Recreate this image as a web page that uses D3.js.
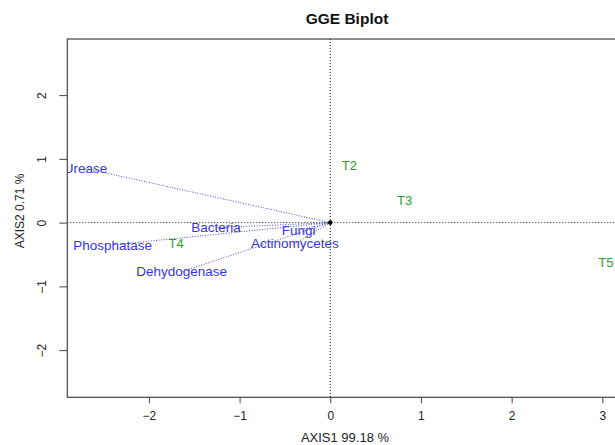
<!DOCTYPE html>
<html>
<head>
<meta charset="utf-8">
<script src="https://cdn.jsdelivr.net/npm/d3@7"></script>
<style>
  html, body { margin: 0; padding: 0; background: #fff; }
  svg { display: block; font-family: "Liberation Sans", Arial, sans-serif; }
</style>
</head>
<body>
<svg id="chart" width="615" height="445"></svg>
<script>
// ---- data (biplot coordinates) ----
const traits   = ["Urease", "Bacteria", "Phosphatase", "Fungi", "Actinomycetes", "Dehydogenase"];
const traitPC1 = [-2.70, -1.26, -2.40, -0.35, -0.39, -1.64];
const traitPC2 = [ 0.85, -0.08, -0.35, -0.12, -0.33, -0.77];

const genotypes = ["T2", "T3", "T4", "T5"];
const genoPC1   = [0.21, 0.82, -1.70, 3.04];
const genoPC2   = [0.89, 0.34, -0.32, -0.63];

const xTicks = [-2, -1, 0, 1, 2, 3];
const yTicks = [-2, -1, 0, 1, 2];

const title  = "GGE Biplot";
const xTitle = "AXIS1 99.18 %";
const yTitle = "AXIS2 0.71 %";

// ---- layout ----
const svg = d3.select("#chart");
const L = 67.3, R = 625, T = 39, B = 397.3;

const x = d3.scaleLinear().domain([-2.9, 3.25]).range([L, R]);
const y = d3.scaleLinear().domain([-2.74, 2.88]).range([B, T]);

svg.append("defs").append("clipPath").attr("id", "plotclip")
  .append("rect").attr("x", L).attr("y", T).attr("width", R - L).attr("height", B - T);

// title
svg.append("text").attr("x", 347).attr("y", 19).attr("dy", "0.35em")
  .attr("text-anchor", "middle").attr("font-weight", "bold").attr("font-size", 15.5)
  .attr("fill", "#111").text(title);

// plot content
const plot = svg.append("g").attr("clip-path", "url(#plotclip)");

// reference lines through origin
plot.append("line").attr("x1", L).attr("x2", R).attr("y1", y(0)).attr("y2", y(0))
  .attr("stroke", "#111").attr("stroke-width", 1).attr("stroke-dasharray", "1,2");
plot.append("line").attr("x1", x(0)).attr("x2", x(0)).attr("y1", T).attr("y2", B)
  .attr("stroke", "#111").attr("stroke-width", 1).attr("stroke-dasharray", "1,2");

const traitData = traits.map((t, i) => ({ name: t, pc1: traitPC1[i], pc2: traitPC2[i] }));
const genoData = genotypes.map((g, i) => ({ name: g, pc1: genoPC1[i], pc2: genoPC2[i] }));

// trait vectors
plot.selectAll("line.vec").data(traitData).enter().append("line")
  .attr("class", "vec")
  .attr("x1", x(0)).attr("y1", y(0))
  .attr("x2", d => x(d.pc1)).attr("y2", d => y(d.pc2))
  .attr("stroke", "#4a4ad6").attr("stroke-width", 1).attr("stroke-dasharray", "1,1.6");

// trait labels
plot.selectAll("text.trait").data(traitData).enter().append("text")
  .attr("class", "trait")
  .attr("x", d => x(d.pc1)).attr("y", d => y(d.pc2)).attr("dy", "0.35em")
  .attr("text-anchor", "middle").attr("font-size", 13.5).attr("fill", "#3535dd")
  .text(d => d.name);

// genotype labels
plot.selectAll("text.geno").data(genoData).enter().append("text")
  .attr("class", "geno")
  .attr("x", d => x(d.pc1)).attr("y", d => y(d.pc2)).attr("dy", "0.35em")
  .attr("text-anchor", "middle").attr("font-size", 13).attr("fill", "#2f9a2f")
  .text(d => d.name);

// origin point
plot.append("circle").attr("cx", x(0)).attr("cy", y(0)).attr("r", 2.3).attr("fill", "#000");

// box
svg.append("rect").attr("x", L).attr("y", T).attr("width", R - L).attr("height", B - T)
  .attr("fill", "none").attr("stroke", "#444").attr("stroke-width", 1.2);

// x axis
const xAxis = svg.append("g").attr("transform", `translate(0,${B})`)
  .call(d3.axisBottom(x).tickValues(xTicks).tickSize(6).tickPadding(8).tickFormat(d3.format("d")));
xAxis.select(".domain").remove();
xAxis.selectAll("line").attr("stroke", "#444");
xAxis.selectAll("text").attr("font-size", 12).attr("fill", "#222")
  .attr("font-family", "Liberation Sans, Arial, sans-serif");

// y axis
const yAxis = svg.append("g").attr("transform", `translate(${L},0)`)
  .call(d3.axisLeft(y).tickValues(yTicks).tickSize(8).tickFormat(d3.format("d")));
yAxis.select(".domain").remove();
yAxis.selectAll("line").attr("stroke", "#444");
yAxis.selectAll("text")
  .attr("x", null).attr("dy", null)
  .attr("transform", "translate(-21,0) rotate(-90)")
  .attr("text-anchor", "middle")
  .attr("font-size", 12).attr("fill", "#222")
  .attr("font-family", "Liberation Sans, Arial, sans-serif");

// axis titles
svg.append("text").attr("x", 345).attr("y", 437).attr("dy", "0.35em")
  .attr("text-anchor", "middle").attr("font-size", 13).attr("fill", "#222").text(xTitle);
svg.append("text").attr("transform", "translate(20,211) rotate(-90)").attr("dy", "0.35em")
  .attr("text-anchor", "middle").attr("font-size", 12).attr("fill", "#222").text(yTitle);
</script>
</body>
</html>
